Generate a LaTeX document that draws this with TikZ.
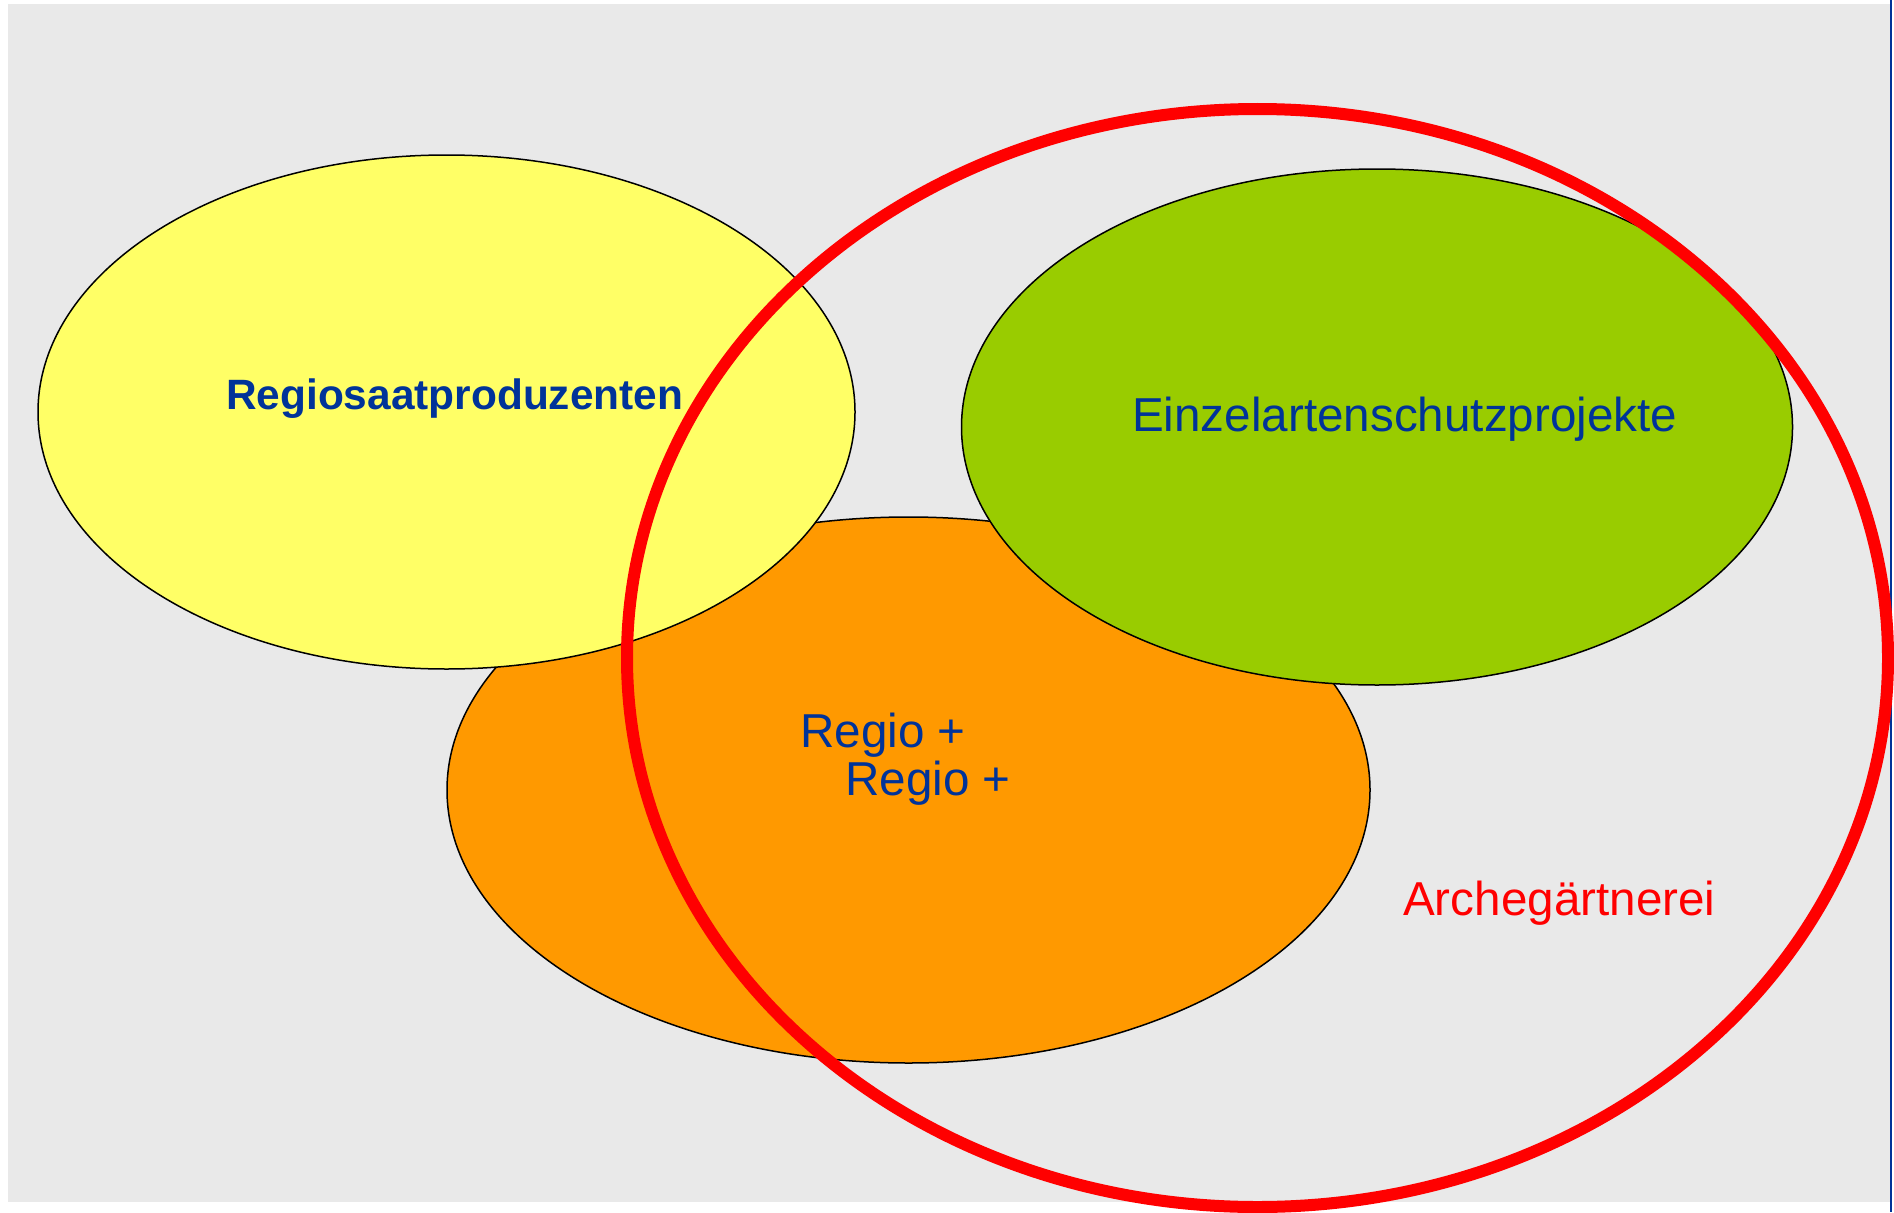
\documentclass[tikz,border=0pt]{standalone}
\usepackage{fontspec}
\setmainfont{Liberation Sans}
\usetikzlibrary{shapes.geometric}
\definecolor{bggray}{HTML}{E9E9E9}
\definecolor{ylw}{HTML}{FFFF66}
\definecolor{org}{HTML}{FF9900}
\definecolor{grn}{HTML}{99CC00}
\definecolor{txtblue}{HTML}{003399}
\definecolor{redc}{HTML}{FF0000}
\tikzset{
  blob/.style={ellipse, draw=black, line width=1.5pt, inner sep=0pt},
  lbl/.style={anchor=base west, inner sep=0pt, text=txtblue, font=\fontsize{47.6}{56}\selectfont},
}
\begin{document}
\begin{tikzpicture}[x=1pt,y=-1pt]
\useasboundingbox (0,0) rectangle (1894,1212);
\clip (0,0) rectangle (1894,1212);
\fill[bggray] (8,4) rectangle (1890,1202);
\draw[txtblue, line width=2.5pt] (1891,0) -- (1891,1212);
\node[blob, fill=org, minimum width=923pt, minimum height=546pt] (orange) at (908.5,790) {};
\node[blob, fill=ylw, minimum width=817pt, minimum height=514pt] (yellow) at (446.5,412) {};
\node[blob, fill=grn, minimum width=831pt, minimum height=516pt] (green) at (1377,427) {};
\node[ellipse, draw=redc, line width=12pt, inner sep=0pt, minimum width=1261pt, minimum height=1098pt] (red) at (1257.5,658) {};
\node[lbl, font=\fontsize{42.4}{50}\selectfont\bfseries] (t1) at (226,409) {Regiosaatproduzenten};
\node[lbl] (t2) at (1132,431) {Einzelartenschutzprojekte};
\node[lbl] (t3) at (800,747) {Regio +};
\node[lbl] (t4) at (845,795) {Regio +};
\node[lbl, text=redc] (t5) at (1403,915) {Archegärtnerei};
\end{tikzpicture}
\end{document}
